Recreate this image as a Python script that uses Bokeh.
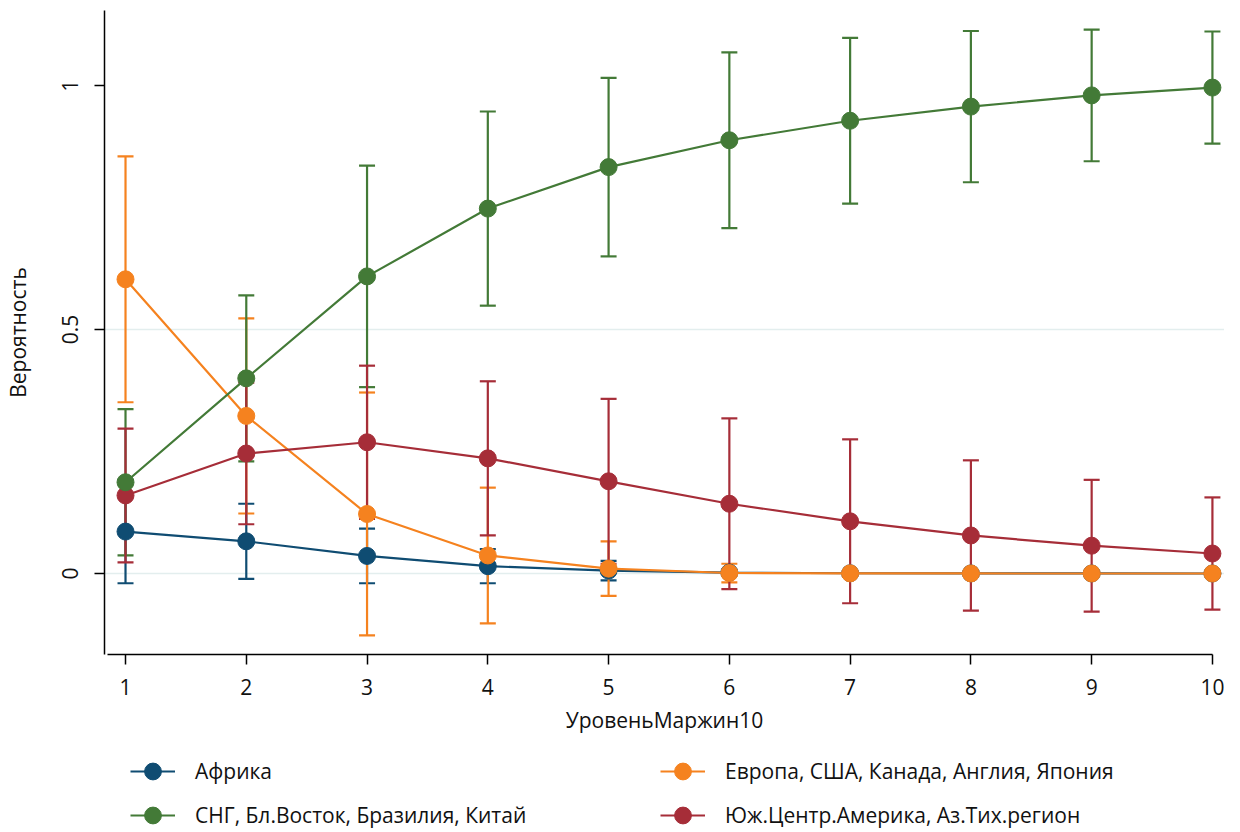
from bokeh.plotting import figure
from bokeh.layouts import column
from bokeh.models import (ColumnDataSource, Whisker, TeeHead, Range1d, FixedTicker,
                          Legend, LegendItem, Grid)
from bokeh.embed import file_html
from bokeh.resources import INLINE

# ---- data ----
levels = [1, 2, 3, 4, 5, 6, 7, 8, 9, 10]
series_names = ["Африка", "Европа, США, Канада, Англия, Япония",
                "СНГ, Бл.Восток, Бразилия, Китай", "Юж.Центр.Америка, Аз.Тих.регион"]
africa = [0.086, 0.066, 0.036, 0.015, 0.006, 0.002, 0.0005, 0.0002, 0.0001, 0.00003]
africa_ci = [0.106, 0.077, 0.056, 0.035, 0.020, 0.006, 0.002, 0.0008, 0.0003, 0.0001]
europe = [0.603, 0.323, 0.122, 0.037, 0.010, 0.001, 0.0003, 0.0001, 0.00003, 0.00001]
europe_ci = [0.252, 0.200, 0.249, 0.139, 0.056, 0.019, 0.004, 0.001, 0.0003, 0.0001]
cis = [0.187, 0.400, 0.609, 0.748, 0.833, 0.888, 0.928, 0.957, 0.980, 0.996]
cis_ci = [0.150, 0.170, 0.227, 0.199, 0.183, 0.180, 0.170, 0.155, 0.135, 0.115]
latam = [0.160, 0.246, 0.269, 0.236, 0.189, 0.143, 0.107, 0.078, 0.057, 0.041]
latam_ci = [0.137, 0.145, 0.157, 0.158, 0.169, 0.175, 0.168, 0.154, 0.135, 0.115]
y_ticks = [0, 0.5, 1]
y_tick_labels = ["0", "0.5", "1"]
x_label = "УровеньМаржин10"
y_label = "Вероятность"

colors = ["#0f4c72", "#f5821f", "#437a37", "#a62d38"]
FONT = "Open Sans"
LW = 2.2

p = figure(width=1224, height=744, output_backend="svg", toolbar_location=None,
           x_range=Range1d(0.826, 10.1), y_range=Range1d(-0.166, 1.154),
           min_border_left=102, min_border_right=0, min_border_top=10, min_border_bottom=90)
p.outline_line_color = None
p.xgrid.visible = False
p.ygrid.visible = False
p.add_layout(Grid(dimension=1, ticker=FixedTicker(ticks=[0, 0.5]),
                  grid_line_color="#e3eeee", grid_line_width=1.5))

# axes
p.xaxis.ticker = FixedTicker(ticks=levels)
p.xaxis.bounds = (0.85, 10.0)
p.yaxis.ticker = FixedTicker(ticks=y_ticks)
p.yaxis.major_label_overrides = {t: s for t, s in zip(y_ticks, y_tick_labels)}
p.yaxis.major_label_orientation = "vertical"
for ax in (p.xaxis[0], p.yaxis[0]):
    ax.axis_line_color = "black"
    ax.axis_line_width = 1.5
    ax.major_tick_line_color = "black"
    ax.major_tick_line_width = 1.5
    ax.major_tick_in = 0
    ax.major_tick_out = 10
    ax.minor_tick_line_color = None
    ax.major_label_text_font = FONT
    ax.major_label_text_font_size = "21px"
    ax.major_label_text_color = "#111111"
    ax.axis_label_text_font = FONT
    ax.axis_label_text_font_size = "21px"
    ax.axis_label_text_font_style = "normal"
    ax.axis_label_text_color = "#111111"
p.xaxis.axis_label = x_label
p.yaxis.axis_label = y_label
p.xaxis.major_label_standoff = 14
p.xaxis.axis_label_standoff = 8
p.yaxis.major_label_standoff = 16
p.yaxis.axis_label_standoff = 28

vals = [africa, europe, cis, latam]
cis_all = [africa_ci, europe_ci, cis_ci, latam_ci]

# confidence intervals first
for v, c, col in zip(vals, cis_all, colors):
    src = ColumnDataSource(dict(x=levels, lo=[a - b for a, b in zip(v, c)],
                                hi=[a + b for a, b in zip(v, c)]))
    w = Whisker(base="x", lower="lo", upper="hi", source=src, dimension="height",
                line_color=col, line_width=LW,
                upper_head=TeeHead(size=16, line_color=col, line_width=LW),
                lower_head=TeeHead(size=16, line_color=col, line_width=LW))
    p.add_layout(w)

for idx in [0, 1, 3, 2]:
    src = ColumnDataSource(dict(x=levels, y=vals[idx]))
    p.line("x", "y", source=src, line_color=colors[idx], line_width=LW)
    p.scatter("x", "y", source=src, size=17, fill_color=colors[idx],
              line_color=colors[idx])

# ---- legend strip (separate figure; its renderers lie outside its visible range) ----
leg = figure(width=1224, height=88, output_backend="svg", toolbar_location=None,
             x_range=Range1d(-100, -99), y_range=Range1d(0, 1),
             x_axis_type=None, y_axis_type=None,
             min_border_left=0, min_border_right=0, min_border_top=0, min_border_bottom=0)
leg.outline_line_color = None
leg.xgrid.visible = False
leg.ygrid.visible = False
rend = {}
for idx in range(4):
    src = ColumnDataSource(dict(x=levels, y=vals[idx]))
    ln = leg.line("x", "y", source=src, line_color=colors[idx], line_width=LW)
    sc = leg.scatter("x", "y", source=src, size=17, fill_color=colors[idx],
                     line_color=colors[idx])
    rend[idx] = [ln, sc]

# filled column by column: Africa, CIS | Europe, LatAm
items = [LegendItem(label=series_names[i], renderers=rend[i]) for i in [0, 2, 1, 3]]
legend = Legend(items=items, ncols=2, location=(26, -4),
                label_text_font=FONT, label_text_font_size="21px",
                label_text_color="#111111",
                glyph_width=45, glyph_height=42, label_height=20, label_width=463,
                label_standoff=20, spacing=2, padding=0, margin=0,
                border_line_color=None, background_fill_alpha=0)
leg.add_layout(legend)

layout = column(p, leg, spacing=0)
open("out.html", "w").write(file_html(layout, INLINE))
